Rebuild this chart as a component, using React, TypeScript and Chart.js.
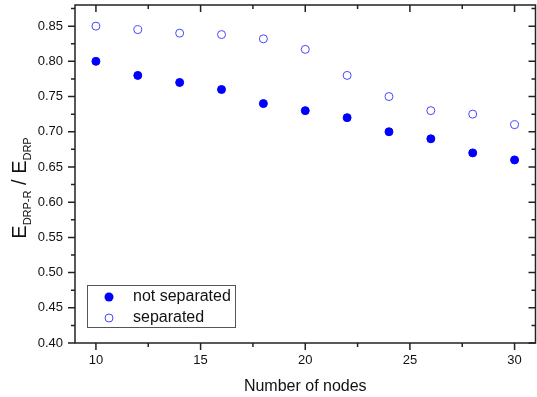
import React, { useEffect, useRef } from "react";
import { Chart, registerables } from "chart.js";

Chart.register(...registerables);

const nodeCounts = [10, 12, 14, 16, 18, 20, 22, 24, 26, 28, 30];
const notSeparated = [0.80, 0.78, 0.77, 0.76, 0.74, 0.73, 0.72, 0.70, 0.69, 0.67, 0.66];
const separated = [0.85, 0.845, 0.84, 0.838, 0.832, 0.817, 0.78, 0.75, 0.73, 0.725, 0.71];
const seriesLabels = ["not separated", "separated"];
const xMajorTicks = [10, 15, 20, 25, 30];
const xMinorTicks = [12.5, 17.5, 22.5, 27.5];
const yMajorTicks = [0.40, 0.45, 0.50, 0.55, 0.60, 0.65, 0.70, 0.75, 0.80, 0.85];
const yMinorTicks = [0.425, 0.475, 0.525, 0.575, 0.625, 0.675, 0.725, 0.775, 0.825, 0.875];
const xTitle = "Number of nodes";

const FONT = '"Liberation Sans", Arial, sans-serif';
const FILLED = "#0000ff";
const OPEN = "#4646ff";

const framePlugin = {
  id: "framePlugin",
  afterDraw(chart: any) {
    const { ctx, chartArea } = chart;
    const { left, right, top, bottom } = chartArea;
    const xs = chart.scales.x;
    const ys = chart.scales.y;
    ctx.save();
    ctx.strokeStyle = "#222";
    ctx.lineWidth = 1.5;
    ctx.strokeRect(left, top, right - left, bottom - top);
    const major = 7;
    const minor = 4;
    ctx.beginPath();
    const xt = (v: number, len: number) => {
      const px = xs.getPixelForValue(v);
      ctx.moveTo(px, bottom);
      ctx.lineTo(px, bottom + len);
      ctx.moveTo(px, top);
      ctx.lineTo(px, top + len);
    };
    const yt = (v: number, len: number) => {
      const py = ys.getPixelForValue(v);
      ctx.moveTo(left - len, py);
      ctx.lineTo(left, py);
      ctx.moveTo(right - len, py);
      ctx.lineTo(right, py);
    };
    xMajorTicks.forEach((v) => xt(v, major));
    xMinorTicks.forEach((v) => xt(v, minor));
    yMajorTicks.forEach((v) => yt(v, major));
    yMinorTicks.forEach((v) => yt(v, minor));
    ctx.stroke();

    // Legend
    ctx.lineWidth = 1;
    ctx.strokeStyle = "#555";
    ctx.strokeRect(87.5, 285.5, 148, 42);
    ctx.fillStyle = FILLED;
    ctx.beginPath();
    ctx.arc(109, 297, 4.5, 0, Math.PI * 2);
    ctx.fill();
    ctx.strokeStyle = OPEN;
    ctx.beginPath();
    ctx.arc(109, 318, 4, 0, Math.PI * 2);
    ctx.stroke();
    ctx.fillStyle = "#111";
    ctx.font = `16px ${FONT}`;
    ctx.textAlign = "left";
    ctx.textBaseline = "middle";
    ctx.fillText(seriesLabels[0], 133, 297);
    ctx.fillText(seriesLabels[1], 133, 318);

    // X title
    ctx.textAlign = "center";
    ctx.fillText(xTitle, (left + right) / 2, 387);

    // Y title with subscripts
    const parts = [
      { t: "E", s: 20, sub: false },
      { t: "DRP-R", s: 11, sub: true },
      { t: " / ", s: 20, sub: false },
      { t: "E", s: 20, sub: false },
      { t: "DRP", s: 11, sub: true },
    ];
    let total = 0;
    const widths = parts.map((p) => {
      ctx.font = `${p.s}px ${FONT}`;
      const w = ctx.measureText(p.t).width;
      total += w;
      return w;
    });
    ctx.translate(26, 188);
    ctx.rotate(-Math.PI / 2);
    ctx.textAlign = "left";
    ctx.textBaseline = "alphabetic";
    let x = -total / 2;
    parts.forEach((p, i) => {
      ctx.font = `${p.s}px ${FONT}`;
      ctx.fillText(p.t, x, p.sub ? 5 : 0);
      x += widths[i];
    });
    ctx.restore();
  },
};

export default function App() {
  const ref = useRef<HTMLCanvasElement>(null);
  useEffect(() => {
    if (!ref.current) return;
    const chart = new Chart(ref.current, {
      type: "scatter",
      data: {
        datasets: [
          {
            label: seriesLabels[0],
            data: nodeCounts.map((x, i) => ({ x, y: notSeparated[i] })),
            pointRadius: 4,
            pointBorderWidth: 1,
            backgroundColor: FILLED,
            borderColor: FILLED,
            pointStyle: "circle",
          },
          {
            label: seriesLabels[1],
            data: nodeCounts.map((x, i) => ({ x, y: separated[i] })),
            pointRadius: 4,
            pointBorderWidth: 1,
            backgroundColor: "rgba(0,0,0,0)",
            borderColor: OPEN,
            pointStyle: "circle",
          },
        ],
      },
      options: {
        responsive: false,
        animation: false,
        layout: { autoPadding: false, padding: { left: 0, right: 1.5, top: 5, bottom: 0 } },
        plugins: { legend: { display: false }, tooltip: { enabled: false } },
        scales: {
          x: {
            type: "linear",
            min: 9,
            max: 31,
            grid: { display: false, drawTicks: false, tickLength: 0 },
            border: { display: false },
            afterBuildTicks: (s: any) => {
              s.ticks = xMajorTicks.map((v) => ({ value: v }));
            },
            afterFit: (s: any) => {
              s.height = 54;
              s.paddingLeft = 0;
              s.paddingRight = 0;
              s.paddingTop = 0;
              s.paddingBottom = 0;
            },
            ticks: {
              padding: 10,
              autoSkip: false,
              maxRotation: 0,
              color: "#111",
              font: { family: FONT, size: 13 },
              callback: (v: any) => String(v),
            },
          },
          y: {
            type: "linear",
            min: 0.4,
            max: 0.88,
            grid: { display: false, drawTicks: false, tickLength: 0 },
            border: { display: false },
            afterBuildTicks: (s: any) => {
              s.ticks = yMajorTicks.map((v) => ({ value: v }));
            },
            afterFit: (s: any) => {
              s.width = 75;
              s.paddingLeft = 0;
              s.paddingRight = 0;
              s.paddingTop = 0;
              s.paddingBottom = 0;
            },
            ticks: {
              padding: 12,
              autoSkip: false,
              color: "#111",
              font: { family: FONT, size: 13 },
              callback: (v: any) => Number(v).toFixed(2),
            },
          },
        },
      },
      plugins: [framePlugin],
    } as any);
    return () => chart.destroy();
  }, []);
  return (
    <div style={{ position: "absolute", left: 0, top: 0, width: 537, height: 397, background: "#fff" }}>
      <canvas ref={ref} width={537} height={397} style={{ display: "block" }} />
    </div>
  );
}
